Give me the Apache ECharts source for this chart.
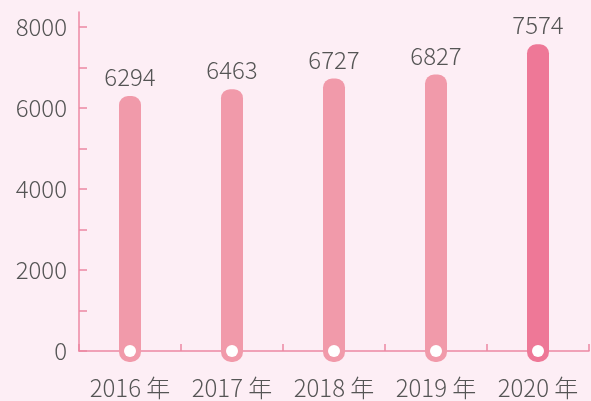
<!DOCTYPE html>
<html>
<head>
<meta charset="utf-8">
<script src="https://cdn.jsdelivr.net/npm/echarts@6/dist/echarts.min.js"></script>
<style>
  html, body { margin: 0; padding: 0; background: #fdeef5; }
  #chart { width: 591px; height: 401px; }
</style>
</head>
<body>
<div id="chart"></div>
<script>
const years = ["2016 年", "2017 年", "2018 年", "2019 年", "2020 年"];
const values = [6294, 6463, 6727, 6827, 7574];
const yLabelValues = [0, 2000, 4000, 6000, 8000];
const yTickValues = [0, 1000, 2000, 3000, 4000, 5000, 6000, 7000, 8000];

const font = '"Noto Sans CJK SC", "Noto Sans", sans-serif';
const axisColor = "#ec88a3";
const textColor = "#555";

const chart = echarts.init(document.getElementById("chart"));
chart.setOption({
  backgroundColor: "#fdeef5",
  grid: { left: 79, right: 2, top: 12, bottom: 50 },
  xAxis: {
    type: "category",
    data: years,
    axisLine: { lineStyle: { color: axisColor, width: 1.5 } },
    axisTick: { show: true, inside: true, length: 7, lineStyle: { color: axisColor, width: 1.5 } },
    axisLabel: {
      interval: 0, hideOverlap: false,
      color: textColor, fontSize: 24, fontFamily: font, fontWeight: 300, margin: 25,
    },
  },
  yAxis: {
    type: "value",
    min: 0,
    max: 8370,
    axisLine: { show: true, lineStyle: { color: axisColor, width: 1.5 } },
    axisTick: { show: true, inside: true, length: 8, customValues: yTickValues, lineStyle: { color: axisColor, width: 1.5 } },
    axisLabel: {
      color: textColor, fontSize: 24, fontFamily: font, fontWeight: 300, margin: 12,
      customValues: yLabelValues,
      formatter: (v) => String(v),
    },
    splitLine: { show: false },
  },
  series: [
    {
      type: "custom",
      data: values.map((v, i) => [i, v]),
      encode: { x: 0, y: 1 },
      renderItem: (params, api) => {
        const top = api.coord([api.value(0), api.value(1)]);
        const zero = api.coord([api.value(0), 0]);
        const last = params.dataIndex === values.length - 1;
        return {
          type: "group",
          children: [
            {
              type: "rect",
              shape: { x: top[0] - 11, y: top[1], width: 22, height: zero[1] - top[1] + 11, r: [9, 9, 10, 10] },
              style: { fill: last ? "#ee7897" : "#f19aaa" },
            },
            {
              type: "circle",
              shape: { cx: zero[0], cy: zero[1], r: 6 },
              style: { fill: "#fff" },
            },
            {
              type: "text",
              x: top[0],
              y: top[1] - 7,
              style: {
                text: String(api.value(1)),
                textAlign: "center",
                textVerticalAlign: "bottom",
                fill: textColor,
                fontSize: 24,
                fontFamily: font,
                fontWeight: 300,
              },
            },
          ],
        };
      },
    },
  ],
});
</script>
</body>
</html>
